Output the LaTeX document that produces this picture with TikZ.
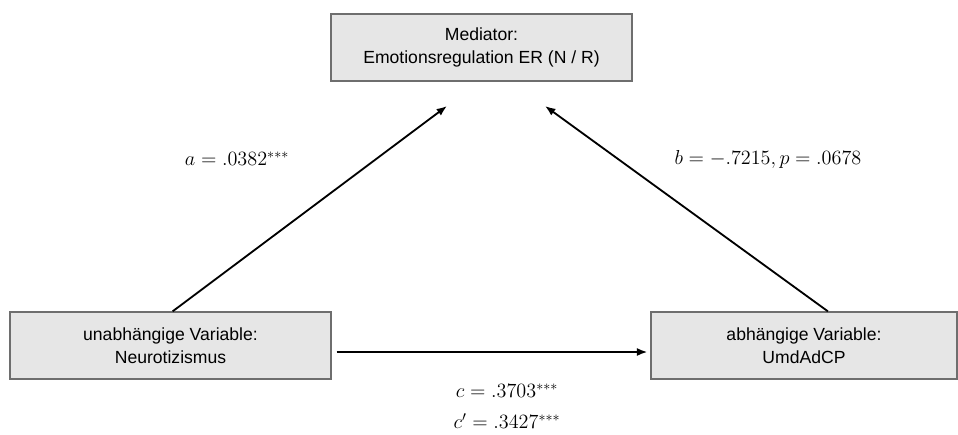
\documentclass[tikz,border=0pt]{standalone}
\usepackage{amsmath}
\usepackage{fontspec}
\usetikzlibrary{arrows.meta}
\newfontfamily\arial{Liberation Sans}
\newcommand{\twol}[2]{\begin{minipage}[h]{#1}\centering #2\end{minipage}}
\definecolor{boxgray}{HTML}{E6E6E6}
\definecolor{edgegray}{HTML}{6E6E6E}

\begin{document}
\begin{tikzpicture}[x=0.025cm, y=-0.025cm,
  font=\arial\fontsize{12.5}{16}\selectfont,
  box/.style={minimum height=1.675cm, draw=edgegray, line width=.9pt, fill=boxgray, inner sep=0pt},
  arr/.style={line width=1.3pt, -{Latex[length=2.6mm, width=2mm]}},
  lab/.style={font=\fontsize{14.5}{16}\selectfont},
  ]
\useasboundingbox (0,0) rectangle (958,434);

\path (481.5,47.5) node[box, minimum width=7.525cm](med){\twol{7cm}{Mediator:\\Emotionsregulation ER (N / R)}};
\path (170.5,345.5) node[box, minimum width=8.025cm](iv){\twol{7cm}{unabhängige Variable:\\Neurotizismus}};
\path (804,345.5) node[box, minimum width=7.65cm](dv){\twol{7cm}{abhängige Variable:\\UmdAdCP}};

\coordinate (atip) at (447,106);
\coordinate (btip) at (545,106);

\draw[arr] ([xshift=1.5]iv.north) -- (atip);
\draw[arr] ([xshift=17]dv.north) -- (btip);
\draw[arr] ([shift={(5,6.5)}]iv.east) -- ([shift={(-3,6.5)}]dv.west);

\path (237,159) node[lab](la){$a = .0382^{***}$};
\path (768,159) node[lab](lb){$b = -.7215, p = .0678$};
\path (507,391) node[lab](lc){$c = .3703^{***}$};
\path (507,421) node[lab](lcc){$c' = .3427^{***}$};

\end{tikzpicture}
\end{document}
